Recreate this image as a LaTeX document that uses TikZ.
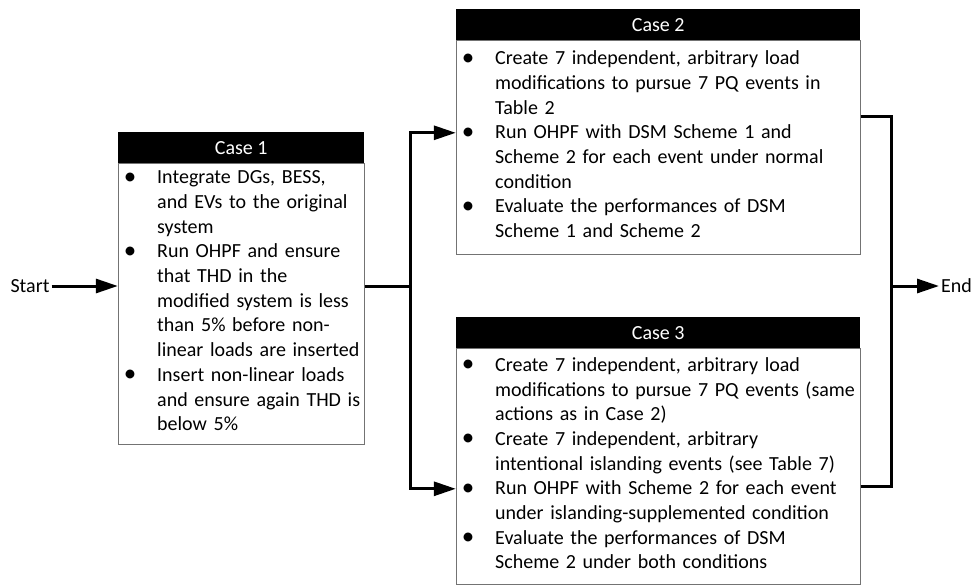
\documentclass[tikz,border=0pt]{standalone}
\usepackage{fontspec}
\setmainfont{Carlito}
\usepackage{tikz}
\usetikzlibrary{arrows.meta,positioning}

\newcommand{\bitem}[1]{\noindent\hangindent=35pt\hangafter=1\makebox[35pt][l]{\makebox[16pt]{\raisebox{-0.5pt}{\scalebox{1.25}{\textbullet}}}}#1\par}

\begin{document}
\begin{tikzpicture}[
  x=1pt, y=-1pt,
  txt/.style={font=\fontsize{20pt}{24.7pt}\selectfont},
  head/.style={txt, fill=black, text=white, minimum height=31pt, inner sep=0pt},
  body/.style={txt, draw=black!55, line width=0.8pt, align=left, inner xsep=4pt, inner ysep=0pt,
    execute at end node={\vspace*{7pt}}},
  link/.style={line width=3pt, line join=miter},
  arrow/.style={link, -{Triangle[length=22pt,width=14pt]}}
]
\useasboundingbox (0,0) rectangle (973,585);

\node[head, minimum width=246pt, anchor=north west] (head1) at (118,132) {Case 1};
\node[body, below=0pt of head1, text width=238pt, minimum height=281pt] (case1) {%
\bitem{Integrate DGs, BESS,\newline and EVs to the original\newline system}
\bitem{Run OHPF and ensure\newline that THD in the\newline modified system is less\newline than 5\% before non-\newline linear loads are inserted}
\bitem{Insert non-linear loads\newline and ensure again THD is\newline below 5\%}};

\node[head, minimum width=404pt, anchor=north west] (head2) at (456,9) {Case 2};
\node[body, below=0pt of head2, text width=396pt, minimum height=214pt] (case2) {%
\bitem{Create 7 independent, arbitrary load\newline modifications to pursue 7 PQ events in\newline Table 2}
\bitem{Run OHPF with DSM Scheme 1 and\newline Scheme 2 for each event under normal\newline condition}
\bitem{Evaluate the performances of DSM\newline Scheme 1 and Scheme 2}};

\node[head, minimum width=404pt, anchor=north west] (head3) at (456,317) {Case 3};
\node[body, below=0pt of head3, text width=396pt, minimum height=236pt] (case3) {%
\bitem{Create 7 independent, arbitrary load\newline modifications to pursue 7 PQ events (same\newline actions as in Case 2)}
\bitem{Create 7 independent, arbitrary\newline intentional islanding events (see Table 7)}
\bitem{Run OHPF with Scheme 2 for each event\newline under islanding-supplemented condition}
\bitem{Evaluate the performances of DSM\newline Scheme 2 under both conditions}};

\node[txt, inner sep=2pt] (start) at (30,286) {Start};
\node[txt, inner sep=2pt, anchor=west] (end) at (939,286) {End};
\coordinate (busL) at (410,286);
\coordinate (busR) at (891,286);

\draw[arrow] (start.east) -- (case1.west |- start);
\draw[link] (case1.east |- busL) -- (busL);
\draw[arrow] (busL) |- ([yshift=15pt]case2.west);
\draw[arrow] (busL) |- ([yshift=-22pt]case3.west);
\draw[link] ([yshift=31pt]case2.east) -| (busR);
\draw[link] ([yshift=-20pt]case3.east) -| (busR);
\draw[arrow] (busR) -- (end.west);
\end{tikzpicture}
\end{document}
